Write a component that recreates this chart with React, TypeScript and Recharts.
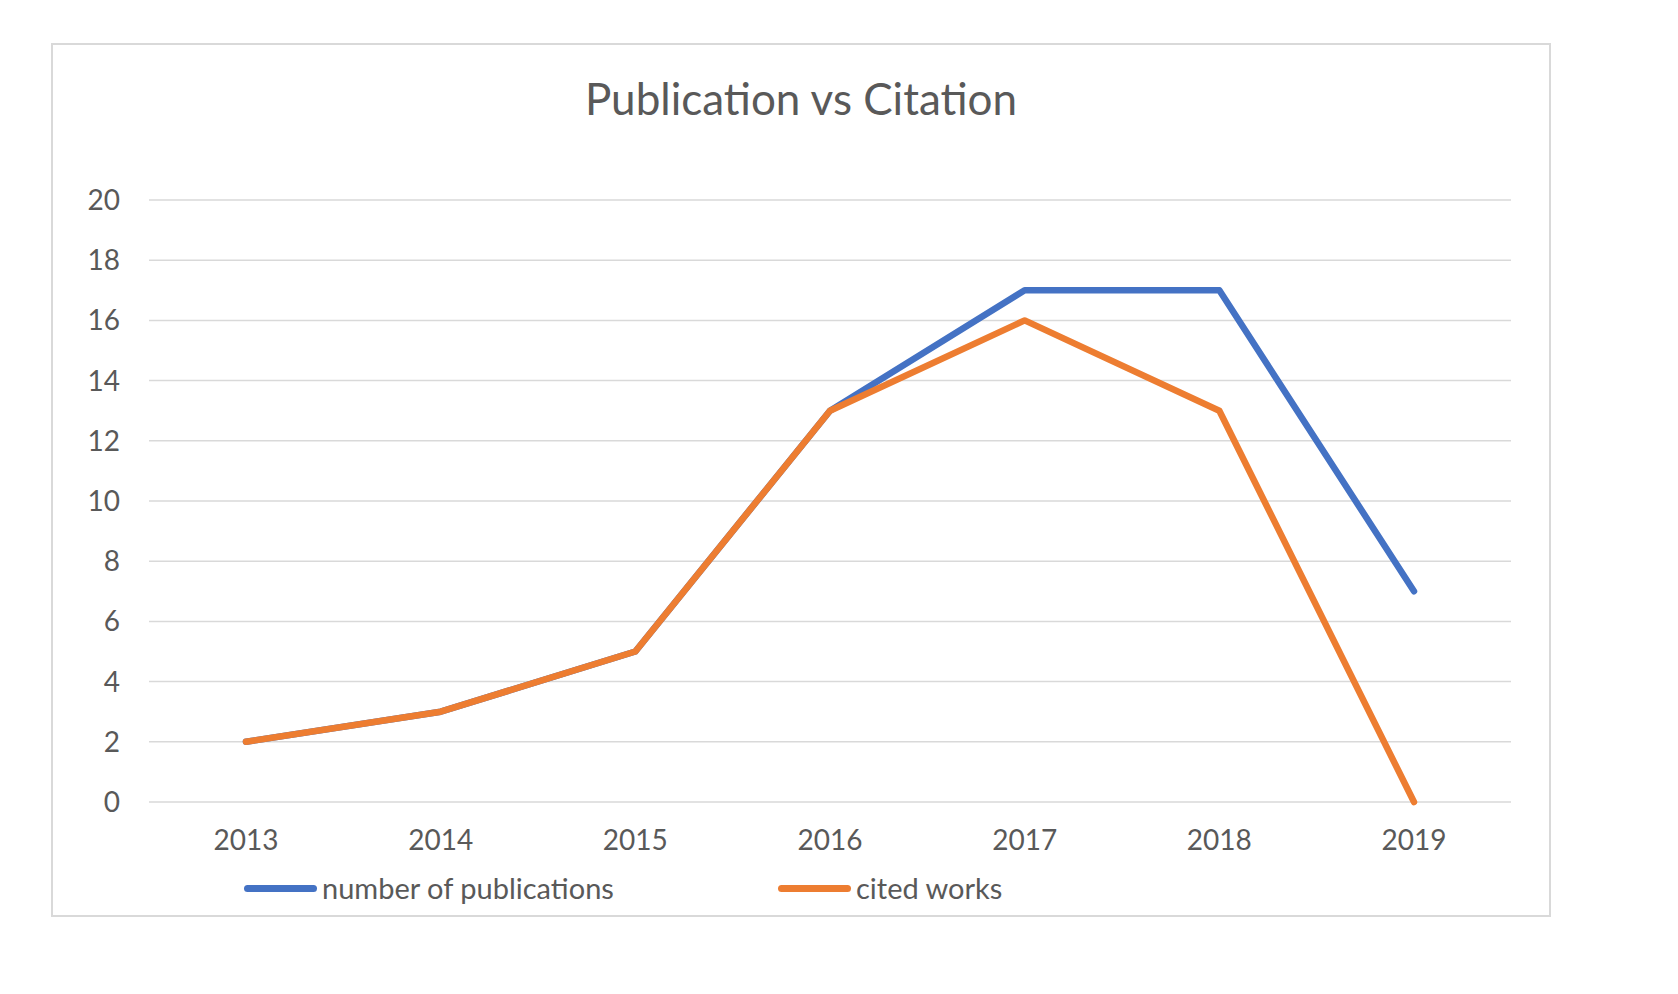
import React from 'react';
import { LineChart, Line, XAxis, YAxis, CartesianGrid } from 'recharts';

const years = ['2013', '2014', '2015', '2016', '2017', '2018', '2019'];
const publications = [2, 3, 5, 13, 17, 17, 7];
const citedWorks = [2, 3, 5, 13, 16, 13, 0];
const yTicks = [0, 2, 4, 6, 8, 10, 12, 14, 16, 18, 20];
const title = 'Publication vs Citation';
const seriesList = [
  { key: 'publications', name: 'number of publications', color: '#4472C4' },
  { key: 'cited', name: 'cited works', color: '#ED7D31' },
];

const data = years.map((y, i) => ({ year: y, publications: publications[i], cited: citedWorks[i] }));

const FONT = 'Lato, "Open Sans", sans-serif';
const TEXT = '#595959';

export default function App() {
  return (
    <div style={{ position: 'absolute', left: 0, top: 0, width: 1678, height: 994, background: '#fff', fontFamily: FONT }}>
      <div style={{ position: 'absolute', left: 51, top: 43, width: 1500, height: 874, border: '2px solid #d9d9d9', boxSizing: 'border-box' }} />
      <div style={{ position: 'absolute', left: 51, width: 1500, top: 73, textAlign: 'center', fontSize: 44, color: TEXT, lineHeight: '50px' }}>{title}</div>
      <div style={{ position: 'absolute', left: 0, top: 0 }}>
        <LineChart width={1678} height={994} data={data} margin={{ top: 200, right: 167, bottom: 162, left: 89 }}>
          <CartesianGrid vertical={false} stroke="#d9d9d9" strokeWidth={1.5} />
          <XAxis dataKey="year" axisLine={false} tickLine={false} tickMargin={22} height={30}
            padding={{ left: 97, right: 97 }}
            tick={{ fill: TEXT, fontSize: 28, fontFamily: FONT }} />
          <YAxis domain={[0, 20]} ticks={yTicks} axisLine={false} tickLine={false} width={60} tickMargin={23}
            tick={{ fill: TEXT, fontSize: 28, fontFamily: FONT }} interval={0} />
          {seriesList.map((s) => (
            <Line key={s.key} type="linear" dataKey={s.key} name={s.name} stroke={s.color} strokeWidth={6.5}
              dot={false} activeDot={false} isAnimationActive={false} strokeLinecap="round" strokeLinejoin="round" />
          ))}
        </LineChart>
      </div>
      {seriesList.map((s, i) => (
        <div key={s.key} style={{ position: 'absolute', left: i === 0 ? 244 : 778, top: 869, height: 38, display: 'flex', alignItems: 'center' }}>
          <div style={{ width: 73, height: 7, borderRadius: 4, background: s.color }} />
          <span style={{ marginLeft: 5, fontSize: 29, color: TEXT, lineHeight: '38px' }}>{s.name}</span>
        </div>
      ))}
    </div>
  );
}
